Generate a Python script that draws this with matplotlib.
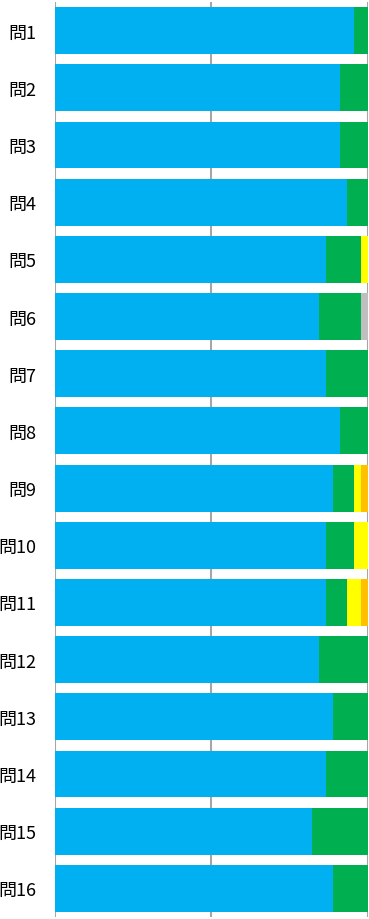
import numpy as np
import matplotlib
matplotlib.use("Agg")
import matplotlib.pyplot as plt

plt.rcParams['font.family'] = ['Noto Sans CJK JP', 'DejaVu Sans']

# 回答数 (全45人)
questions = ["問%d" % i for i in range(1, 17)]
ans_a = [43, 41, 41, 42, 39, 38, 39, 41, 40, 39, 39, 38, 40, 39, 37, 40]
ans_b = [2, 4, 4, 3, 5, 6, 6, 4, 3, 4, 3, 7, 5, 6, 8, 5]
ans_c = [0, 0, 0, 0, 1, 0, 0, 0, 1, 2, 2, 0, 0, 0, 0, 0]
ans_d = [0, 0, 0, 0, 0, 0, 0, 0, 1, 0, 1, 0, 0, 0, 0, 0]
ans_none = [0, 0, 0, 0, 0, 1, 0, 0, 0, 0, 0, 0, 0, 0, 0, 0]

series = [ans_a, ans_b, ans_c, ans_d, ans_none]
colors = ["#00B0F0", "#00B050", "#FFFF00", "#FFC000", "#BFBFBF"]

data = np.array(series, dtype=float)
pct = data / data.sum(axis=0) * 100

fig = plt.figure(figsize=(3.69, 9.2), dpi=100)
# 上端 y=3px, 下端 y=918px あたり
ax = fig.add_axes([55 / 369, 2 / 920, 312.5 / 369, 915 / 920])

y = np.arange(len(questions))
left = np.zeros(len(questions))
for vals, col in zip(pct, colors):
    ax.barh(y, vals, left=left, height=0.82, color=col, edgecolor='none', zorder=2)
    left += vals

ax.set_xlim(0, 100)
ax.set_ylim(len(questions) - 0.5, -0.5)
ax.set_yticks(y)
ax.set_yticklabels(questions, fontsize=13)
ax.set_xticks([0, 50, 100])
ax.set_xticklabels([])
ax.tick_params(axis='y', length=0, pad=13.5)
ax.tick_params(axis='x', length=0)
ax.grid(axis='x', color='#a6a6a6', linewidth=1.5, zorder=0)
for s in ax.spines.values():
    s.set_visible(False)

fig.savefig("out.png", dpi=100)
